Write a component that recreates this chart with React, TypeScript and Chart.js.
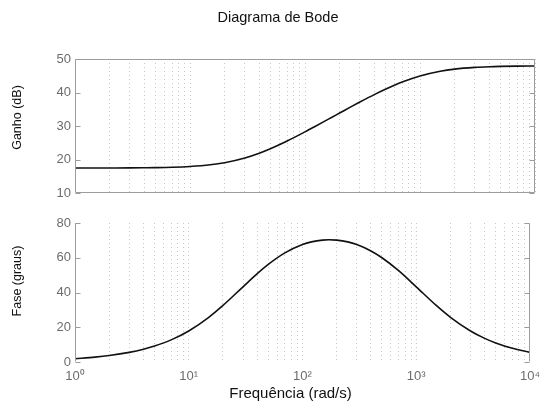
import React, { useEffect, useRef } from 'react';
import { Chart, registerables } from 'chart.js';

Chart.register(...registerables);

// ---- data ----
const frequencies = [1, 1.5, 2, 3, 4, 5, 7, 10, 15, 20, 30, 40, 50, 70, 100, 120, 150, 170, 200, 250, 300, 400, 500, 700, 1000, 1500, 2000, 3000, 4000, 5000, 7000, 10000];
const gainDb = [17.5, 17.51, 17.52, 17.54, 17.58, 17.62, 17.73, 17.96, 18.47, 19.1, 20.51, 21.93, 23.26, 25.57, 28.29, 29.74, 31.55, 32.58, 33.9, 35.72, 37.17, 39.38, 40.98, 43.14, 44.95, 46.36, 46.99, 47.5, 47.7, 47.79, 47.87, 47.92];
const phaseDeg = [1.85, 2.78, 3.7, 5.54, 7.36, 9.17, 12.73, 17.86, 25.71, 32.54, 43.28, 50.84, 56.18, 62.8, 67.59, 69.12, 70.16, 70.34, 70.16, 69.12, 67.59, 63.91, 60.0, 52.56, 43.28, 32.54, 25.71, 17.86, 13.61, 10.97, 7.88, 5.54];

const gainRange = [10, 50];
const phaseRange = [0, 80];
const yStep = [10, 20];
const decades = [1, 10, 100, 1000];
const multipliers = [1, 2, 3, 4, 5, 6, 7, 8, 9];
const xRange = [1, 10000];
const superscripts = ['\u2070', '\u00B9', '\u00B2', '\u00B3', '\u2074'];

const titleText = 'Diagrama de Bode';
const gainLabel = 'Ganho (dB)';
const phaseLabel = 'Fase (graus)';
const freqLabel = 'Frequ\u00eancia (rad/s)';

const FONT = '"Liberation Sans", Arial, Helvetica, sans-serif';
const TICK_COLOR = '#6c6c6c';
const FRAME_COLOR = '#9c9c9c';

const gridValues = decades.flatMap((d) => multipliers.map((m) => m * d)).concat([xRange[1]]);

function xScale(showLabels: boolean, height: number) {
  return {
    type: 'logarithmic' as const,
    min: xRange[0],
    max: xRange[1],
    afterBuildTicks: (s: any) => {
      s.ticks = gridValues.map((v) => ({ value: v }));
    },
    ticks: {
      display: showLabels,
      autoSkip: false,
      maxRotation: 0,
      minRotation: 0,
      padding: 7,
      color: TICK_COLOR,
      font: { family: FONT, size: 13 },
      callback: (value: any) => {
        const v = Number(value);
        const e = Math.round(Math.log10(v));
        return Math.abs(v - Math.pow(10, e)) < 1e-9 ? '10' + superscripts[e] : '';
      },
    },
    grid: { color: '#c6c6c6', lineWidth: 1, drawTicks: false },
    border: { display: false, dash: [1, 3] },
    afterFit: (s: any) => {
      s.height = height;
    },
  };
}

function yScale(range: number[], step: number) {
  return {
    type: 'linear' as const,
    min: range[0],
    max: range[1],
    ticks: {
      stepSize: step,
      padding: 4,
      color: TICK_COLOR,
      font: { family: FONT, size: 13 },
    },
    grid: { display: false, drawTicks: false },
    border: { display: false },
    afterFit: (s: any) => {
      s.width = 75;
    },
  };
}

type TextItem = { text: string; x: number; y: number; size: number; rotate?: boolean };

function framePlugin(sides: string[], texts: TextItem[]) {
  return {
    id: 'frameAndText',
    afterDraw(chart: any) {
      const { ctx, chartArea: a, scales } = chart;
      const L = Math.round(a.left) + 0.5;
      const R = Math.round(a.right) - 0.5;
      const T = Math.round(a.top) + 0.5;
      const B = Math.round(a.bottom) - 0.5;
      ctx.save();
      ctx.strokeStyle = FRAME_COLOR;
      ctx.lineWidth = 1;
      ctx.setLineDash([]);
      ctx.beginPath();
      if (sides.includes('top')) { ctx.moveTo(L, T); ctx.lineTo(R, T); }
      if (sides.includes('bottom')) { ctx.moveTo(L, B); ctx.lineTo(R, B); }
      if (sides.includes('left')) { ctx.moveTo(L, T); ctx.lineTo(L, B); }
      if (sides.includes('right')) { ctx.moveTo(R, T); ctx.lineTo(R, B); }
      ctx.stroke();
      // inward y ticks on both sides
      ctx.beginPath();
      for (const t of scales.y.ticks) {
        const y = Math.round(scales.y.getPixelForValue(t.value)) + 0.5;
        ctx.moveTo(L, y); ctx.lineTo(L + 5, y);
        ctx.moveTo(R, y); ctx.lineTo(R - 5, y);
      }
      ctx.stroke();
      ctx.fillStyle = '#111';
      ctx.textAlign = 'center';
      ctx.textBaseline = 'middle';
      for (const it of texts) {
        ctx.save();
        ctx.font = `${it.size}px ${FONT}`;
        ctx.translate(it.x, it.y);
        if (it.rotate) ctx.rotate(-Math.PI / 2);
        ctx.fillText(it.text, 0, 0);
        ctx.restore();
      }
      ctx.restore();
    },
  };
}

function lineDataset(values: number[]) {
  return {
    data: frequencies.map((f, i) => ({ x: f, y: values[i] })),
    borderColor: '#111111',
    borderWidth: 1.6,
    pointRadius: 0,
    fill: false,
    cubicInterpolationMode: 'monotone' as const,
  };
}

export default function App() {
  const topRef = useRef<HTMLCanvasElement>(null);
  const botRef = useRef<HTMLCanvasElement>(null);

  useEffect(() => {
    const common = {
      responsive: false,
      maintainAspectRatio: false,
      animation: false as const,
      events: [] as any[],
    };
    const c1 = new Chart(topRef.current!, {
      type: 'line',
      data: { datasets: [lineDataset(gainDb)] },
      options: {
        ...common,
        layout: { padding: { left: 0, right: 12, top: 59, bottom: 0 } },
        plugins: { legend: { display: false }, tooltip: { enabled: false } },
        scales: { x: xScale(false, 9) as any, y: yScale(gainRange, yStep[0]) as any },
      },
      plugins: [
        framePlugin(['top', 'bottom', 'left', 'right'], [
          { text: titleText, x: 278, y: 17.5, size: 14.5 },
          { text: gainLabel, x: 18, y: 117.5, size: 12.5, rotate: true },
        ]),
      ],
    });
    const c2 = new Chart(botRef.current!, {
      type: 'line',
      data: { datasets: [lineDataset(phaseDeg)] },
      options: {
        ...common,
        layout: { padding: { left: 0, right: 12, top: 18, bottom: 0 } },
        plugins: { legend: { display: false }, tooltip: { enabled: false } },
        scales: { x: xScale(true, 48) as any, y: yScale(phaseRange, yStep[1]) as any },
      },
      plugins: [
        framePlugin(['left', 'right'], [
          { text: phaseLabel, x: 18, y: 76, size: 12.5, rotate: true },
          { text: freqLabel, x: 290.5, y: 189, size: 15 },
        ]),
      ],
    });
    return () => {
      c1.destroy();
      c2.destroy();
    };
  }, []);

  return (
    <div style={{ position: 'absolute', left: 0, top: 0, width: 547, height: 410, background: '#fff' }}>
      <canvas ref={topRef} width={547} height={205} style={{ position: 'absolute', left: 0, top: 0, width: 547, height: 205 }} />
      <canvas ref={botRef} width={547} height={205} style={{ position: 'absolute', left: 0, top: 205, width: 547, height: 205 }} />
    </div>
  );
}
